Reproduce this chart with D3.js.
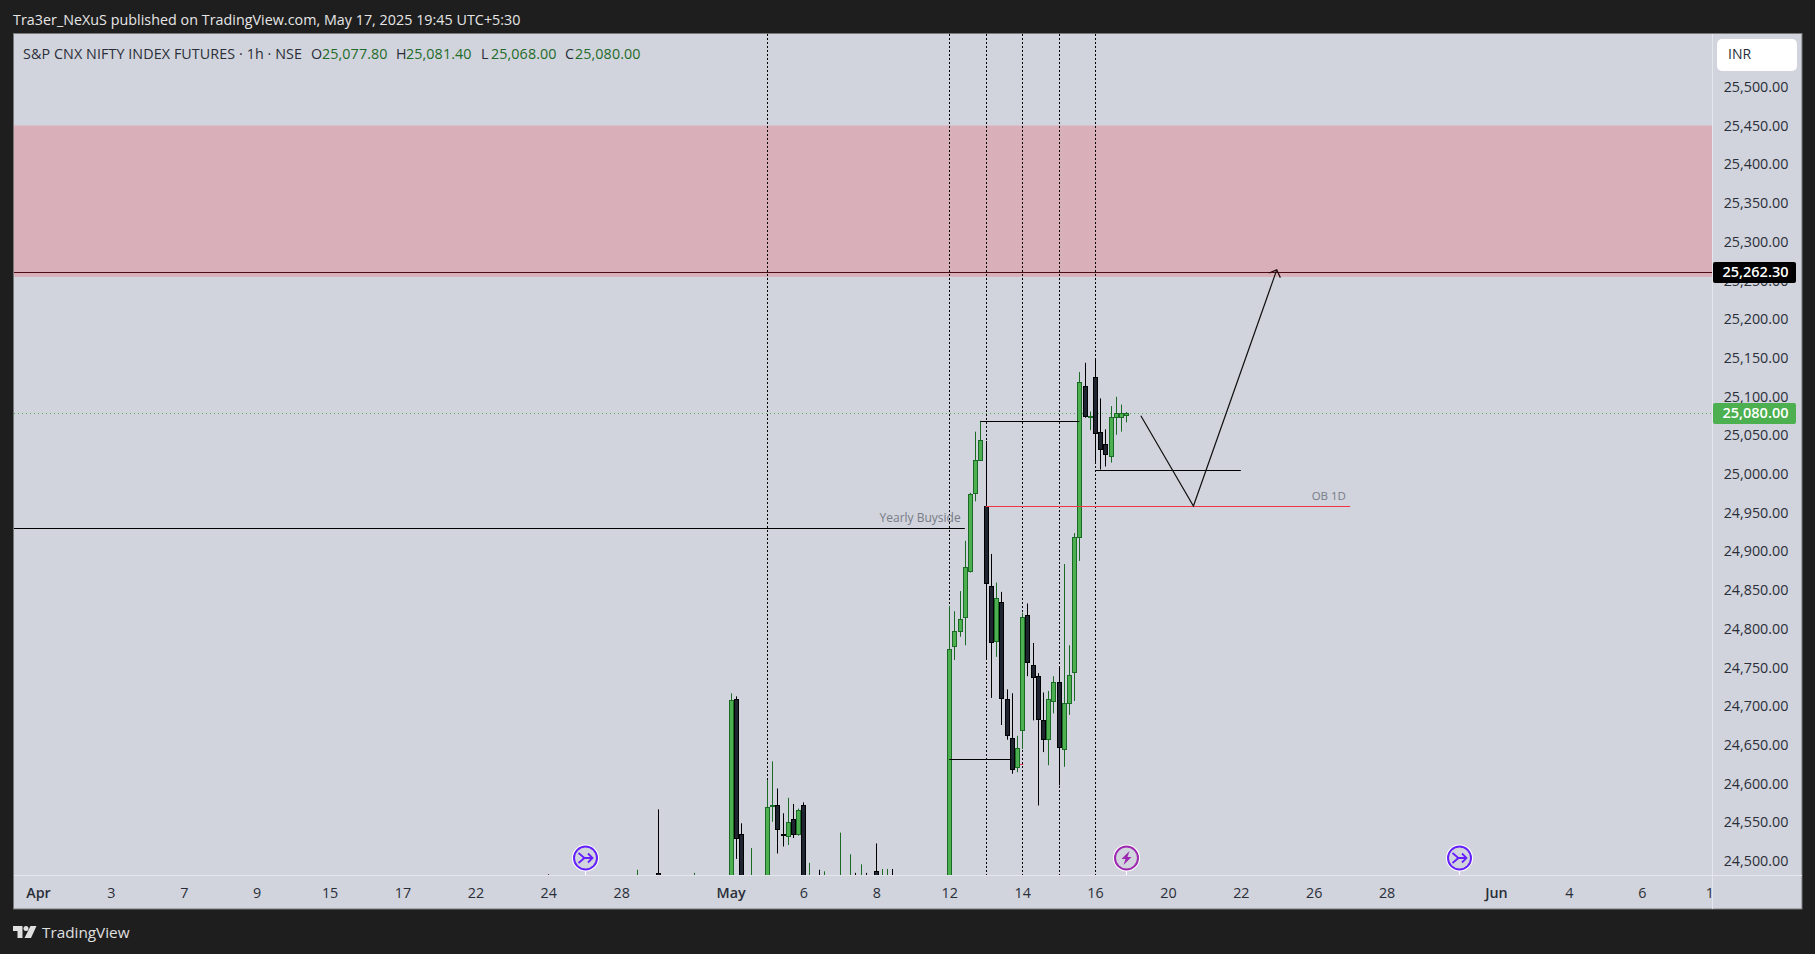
<!DOCTYPE html>
<html>
<head>
<meta charset="utf-8">
<script src="https://cdn.jsdelivr.net/npm/d3@7"></script>
<style>
html,body{margin:0;padding:0;background:#1e1e1e;overflow:hidden}
svg{display:block}
text{font-family:"Open Sans",sans-serif}
</style>
</head>
<body>
<div id="chart"></div>
<script>
// candle position in bars, counted from the 12 May open
const barIndex = [-77,-70,-60,-56,-49,-42,-41,-40,-38,-35,-34,-33,-32,-31,-30,-29,-28,-27,-25,-24,-21,-19,-18,-17,-16,-14,-13,-12,-11,
  0,1,2,3,4,5,6,7,8,9,10,11,12,13,14,15,16,17,18,19,20,21,22,23,24,25,26,27,28,29,30,31,32,33,34];
const opens  = [24470,24470,24440,24486,24440,24300,24710,24536,24420,24400,24573,24573,24536,24534,24556,24536,24574,24440,24470,24440,24440,24440,24470,24440,24470,24489,24440,24440,24470,
  24350,24780,24799,24816,24876,24977,25019,24960,24857,24785,24836,24711,24660,24623,24670,24819,24754,24740,24684,24659,24708,24733,24645,24705,24745,24920,25115,25075,25127,25055,25040,25025,25075,25075,25077.8];
const highs  = [24484,24486,24490,24568,24486,24718,24714,24550,24518,24606,24630,24595,24563,24583,24575,24569,24577,24499,24490,24488,24538,24510,24486,24497,24486,24524,24491,24491,24491,
  24831,24824,24850,24915,24977,25056,25070,25044,24898,24861,24849,24723,24718,24663,24822,24834,24783,24744,24719,24721,24740,24752,24885,24780,24925,25133,25145,25082,25149,25099,25059,25089,25101,25091,25081.4];
const lows   = [24440,24440,24420,24430,24420,24290,24504,24380,24400,24390,24552,24511,24520,24522,24531,24534,24390,24420,24420,24420,24420,24420,24420,24420,24420,24440,24420,24420,24420,
  24300,24761,24791,24780,24874,24966,25018,24763,24712,24765,24677,24658,24614,24616,24646,24740,24683,24573,24642,24625,24692,24599,24623,24690,24708,24889,25074,25058,25017,25007,25011,25016,25052,25056,25068];
const closes = [24450,24450,24470,24450,24470,24709,24531,24400,24470,24571,24574,24542,24535,24552,24536,24567,24400,24470,24440,24470,24470,24470,24440,24470,24440,24450,24470,24470,24440,
  24775,24799,24814,24881,24975,25020,25045,24860,24785,24841,24712,24665,24620,24647,24816,24758,24739,24685,24659,24711,24733,24649,24705,24741,24920,25120,25076,25076,25055,25033,25027,25075,25080,25080,25080];

const priceTicks = d3.range(24500,25501,50);
const timeLabels = ["Apr","3","7","9","15","17","22","24","28","May","6","8","12","14","16","20","22","26","28","Jun","4","6","1"];
const timeBars   = [-175,-161,-147,-133,-119,-105,-91,-77,-63,-42,-28,-14,0,14,28,42,56,70,84,105,119,133,146];
const boldLabels = ["Apr","May","Jun"];
const sessionBars = [-35,0,7,14,21,28];

const zonePrices = [25256,25451.5];
const lastPrice = 25080, targetPrice = 25262.30;
const segBarStart = [-260,6,0,28,7,13.6];
const segBarEnd   = [3,25,12,56,77,14.2];
const segPrices   = [24931,25070,24633,25006,24960,24627];
const segColors   = ["#000","#000","#000","#000","#f23645","#f23645"];
const pathBars   = [36.8,46.9,62.9];
const pathPrices = [25076.6,24960,25265];
const headBars   = [61.4,62.9,63.6];
const headPrices = [25261,25265,25255];
const legendTitle = "S&P CNX NIFTY INDEX FUTURES · 1h · NSE";
const legendKeys = ["O","H","L","C"];
const legendVals = ["25,077.80","25,081.40","25,068.00","25,080.00"];

const W=1815,H=954, L=14,T=34,R=1712,B=875,PR=1802,PB=909;
const svg=d3.select("#chart").append("svg").attr("width",W).attr("height",H);
svg.append("rect").attr("width",W).attr("height",H).attr("fill","#1e1e1e");
svg.append("rect").attr("x",L-.5).attr("y",T-.5).attr("width",PR-L+.5).attr("height",PB-T+.5).attr("fill","#d1d4dc").attr("stroke","#787878");

const x=d3.scaleLinear().domain([-175,146]).range([38,38+321*5.207]);
const y=d3.scaleLinear().domain([24500,25500]).range([862,88]);
const px=v=>Math.round(x(v))+.5, py=v=>Math.round(y(v))+.5;

svg.append("defs").append("clipPath").attr("id","plot").append("rect").attr("x",L).attr("y",T).attr("width",R-L).attr("height",B-T);
svg.append("defs").append("clipPath").attr("id","xaxis").append("rect").attr("x",L).attr("y",B).attr("width",R-L).attr("height",PB-B);
const plot=svg.append("g").attr("clip-path","url(#plot)");

// zone
plot.append("rect").attr("x",L).attr("width",R-L).attr("y",y(zonePrices[1])).attr("height",y(zonePrices[0])-y(zonePrices[1])).attr("fill","#d9b0b9");

// session verticals
plot.selectAll(".sess").data(sessionBars).join("line").attr("x1",px).attr("x2",px).attr("y1",T).attr("y2",B)
  .attr("stroke","#000").attr("stroke-dasharray","2 2");

// last price + target
plot.append("line").attr("x1",L).attr("x2",R).attr("y1",py(lastPrice)).attr("y2",py(lastPrice)).attr("stroke","#4caf50").attr("stroke-dasharray","1 3");

// candles
const idx=d3.range(barIndex.length);
const up=i=>closes[i]>=opens[i];
plot.selectAll(".wick").data(idx).join("line").attr("x1",i=>px(barIndex[i])).attr("x2",i=>px(barIndex[i]))
  .attr("y1",i=>y(highs[i])).attr("y2",i=>y(lows[i])).attr("stroke",i=>up(i)?"#1b6b26":"#000").attr("stroke-width",1);
plot.selectAll(".body").data(idx).join("rect")
  .attr("x",i=>px(barIndex[i])-2).attr("width",4)
  .attr("y",i=>Math.round(y(Math.max(opens[i],closes[i])))+.5)
  .attr("height",i=>Math.max(1,Math.round(Math.abs(y(opens[i])-y(closes[i])))))
  .attr("fill",i=>up(i)?"#4caf50":"#1f2530").attr("stroke",i=>up(i)?"#1b6b26":"#000");

// drawn segments
plot.selectAll(".seg").data(segPrices).join("line")
  .attr("x1",(d,i)=>x(segBarStart[i])).attr("x2",(d,i)=>x(segBarEnd[i])).attr("y1",d=>py(d)).attr("y2",d=>py(d))
  .attr("stroke",(d,i)=>segColors[i]);
plot.append("line").attr("x1",L).attr("x2",R).attr("y1",py(targetPrice)).attr("y2",py(targetPrice)).attr("stroke","#4a0d16");

const ln=d3.line().x(d=>x(d[0])).y(d=>y(d[1]));
plot.append("path").attr("d",ln(d3.zip(pathBars,pathPrices))).attr("fill","none").attr("stroke","#111").attr("stroke-width",1.2);
plot.append("path").attr("d",ln(d3.zip(headBars,headPrices))).attr("fill","none").attr("stroke","#2a0a10").attr("stroke-width",1.2);

// annotation labels
plot.append("text").attr("x",x(2.3)-.5).attr("y",y(24931)-6).attr("text-anchor","end").attr("font-size",12).attr("fill","#787b86").text("Yearly Buyside");
plot.append("text").attr("x",x(76)+1).attr("y",y(24960)-5.5).attr("text-anchor","end").attr("font-size",11.5).attr("fill","#787b86").text("OB 1D");

// axes rules
svg.append("line").attr("x1",L).attr("x2",PR).attr("y1",B+.5).attr("y2",B+.5).attr("stroke","#e6e7ec");
svg.append("line").attr("x1",R+.5).attr("x2",R+.5).attr("y1",T).attr("y2",PB).attr("stroke","#e6e7ec");

// price axis
const yAxis=d3.axisRight(y).tickValues(priceTicks).tickSize(0).tickPadding(0).tickFormat(d3.format(",.2f"));
const gy=svg.append("g").attr("transform",`translate(1756,-1)`).call(yAxis);
gy.select(".domain").remove();
gy.selectAll("text").attr("x",0).attr("dy","0.32em").attr("text-anchor","middle").attr("font-size",14.3).attr("fill","#2a2e39").style("font-family",'"Open Sans",sans-serif');

// time axis
const labelOf=new Map(timeBars.map((b,i)=>[b,timeLabels[i]]));
const xAxis=d3.axisBottom(x).tickValues(timeBars).tickSize(0).tickPadding(0).tickFormat(b=>labelOf.get(b));
const gx=svg.append("g").attr("clip-path","url(#xaxis)").append("g").attr("transform",`translate(0,${B+17})`).call(xAxis);
gx.select(".domain").remove();
gx.selectAll("text").attr("y",0).attr("dy","0").attr("dominant-baseline","central").attr("font-size",14.3).attr("fill","#2a2e39")
  .attr("font-weight",b=>boldLabels.includes(labelOf.get(b))?600:400).style("font-family",'"Open Sans",sans-serif');

// price tags
function tag(price,fill){
  const cy=py(price);
  svg.append("rect").attr("x",1713).attr("y",cy-10.5).attr("width",83).attr("height",21).attr("rx",2).attr("fill",fill);
  svg.append("text").attr("x",1755.5).attr("y",cy-.5).attr("dy","0.35em").attr("text-anchor","middle").attr("font-size",14.5).attr("font-weight",600).attr("fill","#fff").text(d3.format(",.2f")(price));
}
tag(targetPrice,"#000");
tag(lastPrice,"#4caf50");

// currency button
svg.append("rect").attr("x",1717).attr("y",39).attr("width",80).attr("height",32).attr("rx",5).attr("fill","#fff");
svg.append("text").attr("x",1728).attr("y",54.5).attr("dy","0.35em").attr("font-size",14).attr("fill","#2a2e39").text("INR");

// header
svg.append("text").attr("x",13).attr("y",20).attr("dy","0.35em").attr("font-size",14.3).attr("letter-spacing",".03").attr("fill","#e6e6e6").text("Tra3er_NeXuS published on TradingView.com, May 17, 2025 19:45 UTC+5:30");
svg.append("text").attr("x",23).attr("y",53.5).attr("dy","0.35em").attr("font-size",14.3).attr("letter-spacing",".09").attr("fill","#2a2e39").text(legendTitle);
const keyX=[311,396,481,565], valX=[322,406,491,575];
legendKeys.forEach((k,i)=>{
  svg.append("text").attr("x",keyX[i]).attr("y",53.5).attr("dy","0.35em").attr("font-size",14.3).attr("fill","#2a2e39").text(k);
  svg.append("text").attr("x",valX[i]).attr("y",53.5).attr("dy","0.35em").attr("font-size",14.3).attr("letter-spacing",".1").attr("fill","#1f6b2a").text(legendVals[i]);
});

// event badges
function badge(cx,color,kind){
  const g=svg.append("g").attr("transform",`translate(${cx},858)`);
  g.append("line").attr("y1",13).attr("y2",17).attr("stroke","#fff");
  g.append("circle").attr("r",13.5).attr("fill","#fff");
  g.append("circle").attr("r",11.5).attr("fill","#d1d4dc").attr("stroke",color).attr("stroke-width",2);
  if(kind==="bolt"){
    g.append("path").attr("d","M3 -7 L-5 1 L-1 1 L-3 7 L5 -1 L1 -1 Z").attr("fill",color);
  } else {
    g.append("path").attr("d","M-7 -5 L-1 0 L-7 5 M-3 0 L7 0 M2.5 -4.5 L7 0 L2.5 4.5").attr("fill","none").attr("stroke",color).attr("stroke-width",1.8);
  }
}
badge(585.5,"#651fff","arrow");
badge(1126.5,"#9c27b0","bolt");
badge(1459.5,"#651fff","arrow");

// footer logo
const logo=svg.append("g").attr("transform","translate(13,926)").attr("fill","#e0e0e0");
logo.append("path").attr("d","M0 0 H9.5 V12 H4.5 V5 H0 Z");
logo.append("circle").attr("cx",13).attr("cy",2.5).attr("r",2.5);
logo.append("path").attr("d","M17.5 0 H23.5 L18 12 H11.5 Z");
svg.append("text").attr("x",42).attr("y",932.5).attr("dy","0.35em").attr("font-size",15.3).attr("fill","#e0e0e0").text("TradingView");
</script>
</body>
</html>
